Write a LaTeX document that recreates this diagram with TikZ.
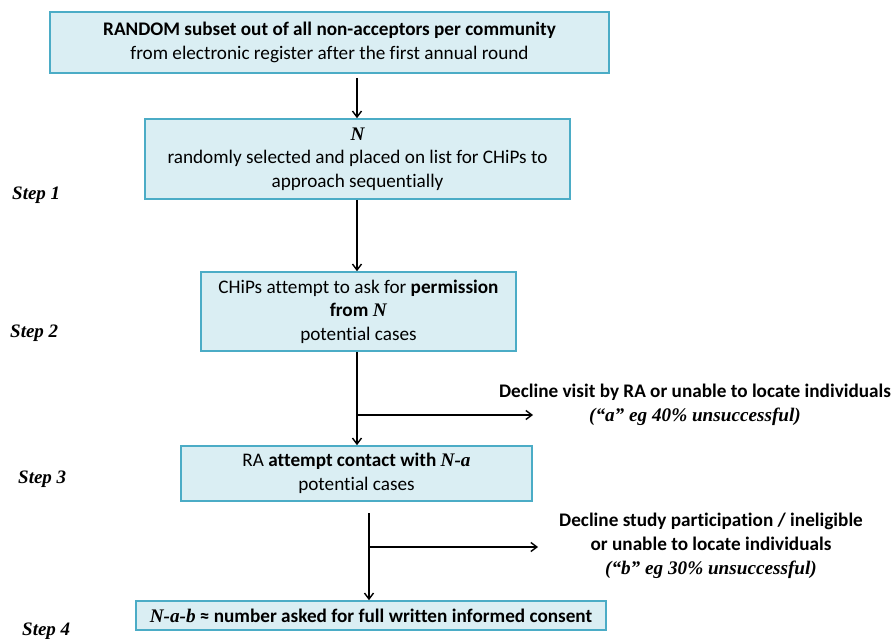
\documentclass[tikz,border=0pt]{standalone}
\usepackage{fontspec}
\setmainfont[Ligatures=NoCommon]{Carlito}
\newfontfamily\tnr{Liberation Serif}
\usetikzlibrary{arrows.meta}
\definecolor{boxfill}{HTML}{DAEEF3}
\definecolor{boxline}{HTML}{4BACC6}
\newcommand{\varsym}[1]{{\tnr\bfseries\itshape #1}}
\tikzset{
  stepbox/.style={draw=boxline, fill=boxfill, line width=1.6pt, rectangle,
    inner sep=0pt, align=center, font=\fontsize{19.2}{23.5}\selectfont},
  arr/.style={line width=1.4pt, -{Straight Barb[length=6pt,width=9pt,line width=1.4pt]}},
  steplabel/.style={font=\tnr\bfseries\itshape\fontsize{19}{22}\selectfont, anchor=west, inner sep=0pt},
  note/.style={align=center, font=\bfseries\fontsize{19.2}{23.8}\selectfont, inner sep=0pt}
}
\begin{document}
\begin{tikzpicture}[x=1pt,y=-1pt]
\useasboundingbox (0,0) rectangle (894,639);

% boxes of the flow
\node[stepbox, minimum width=559pt, minimum height=61pt] (b1) at (329.5,42.5)
  {\textbf{RANDOM subset out of all non-acceptors per community}\\from electronic register after the first annual round};
\node[stepbox, minimum width=425pt, minimum height=80pt] (b2) at (357.5,159)
  {\varsym{N}\\randomly selected and placed on list for CHiPs to\\approach sequentially};
\node[stepbox, minimum width=315pt, minimum height=79pt] (b3) at (358.5,311.5)
  {CHiPs attempt to ask for \textbf{permission}\\\textbf{from \varsym{N}}\\potential cases};
\node[stepbox, minimum width=351pt, minimum height=55pt] (b4) at (356.5,473.5)
  {RA \textbf{attempt contact with \varsym{N-a}}\\potential cases};
\node[stepbox, minimum width=470pt, minimum height=29pt] (b5) at (371,615.5)
  {\varsym{N-a-b} \textbf{≈ number asked for full written informed consent}};

% step labels
\node[steplabel] (s1) at (12,195) {Step 1};
\node[steplabel] (s2) at (10,333) {Step 2};
\node[steplabel] (s3) at (18,479) {Step 3};
\node[steplabel] (s4) at (22,631) {Step 4};

% side notes
\node[note] (r1) at (695,404.5)
  {Decline visit by RA or unable to locate individuals\\{\tnr\bfseries\itshape (“a” eg 40\% unsuccessful)}};
\node[note] (r2) at (711,546)
  {Decline study participation / ineligible\\or unable to locate individuals\\{\tnr\bfseries\itshape (“b” eg 30\% unsuccessful)}};

% connectors
\coordinate (a1) at (357,78);
\draw[arr] (a1) -- (a1 |- b2.north);
\draw[arr] (b2.south -| a1) -- (b3.north -| a1);

\coordinate (j1) at (357,415);
\coordinate (e1) at (533,415);
\draw[arr] (b3.south -| j1) -- (b4.north -| j1);
\draw[arr] (j1) -- (e1);

\coordinate (t2) at (369,513);
\coordinate (j2) at (369,547);
\coordinate (e2) at (538,547);
\draw[arr] (t2) -- (t2 |- b5.north);
\draw[arr] (j2) -- (e2);
\end{tikzpicture}
\end{document}
